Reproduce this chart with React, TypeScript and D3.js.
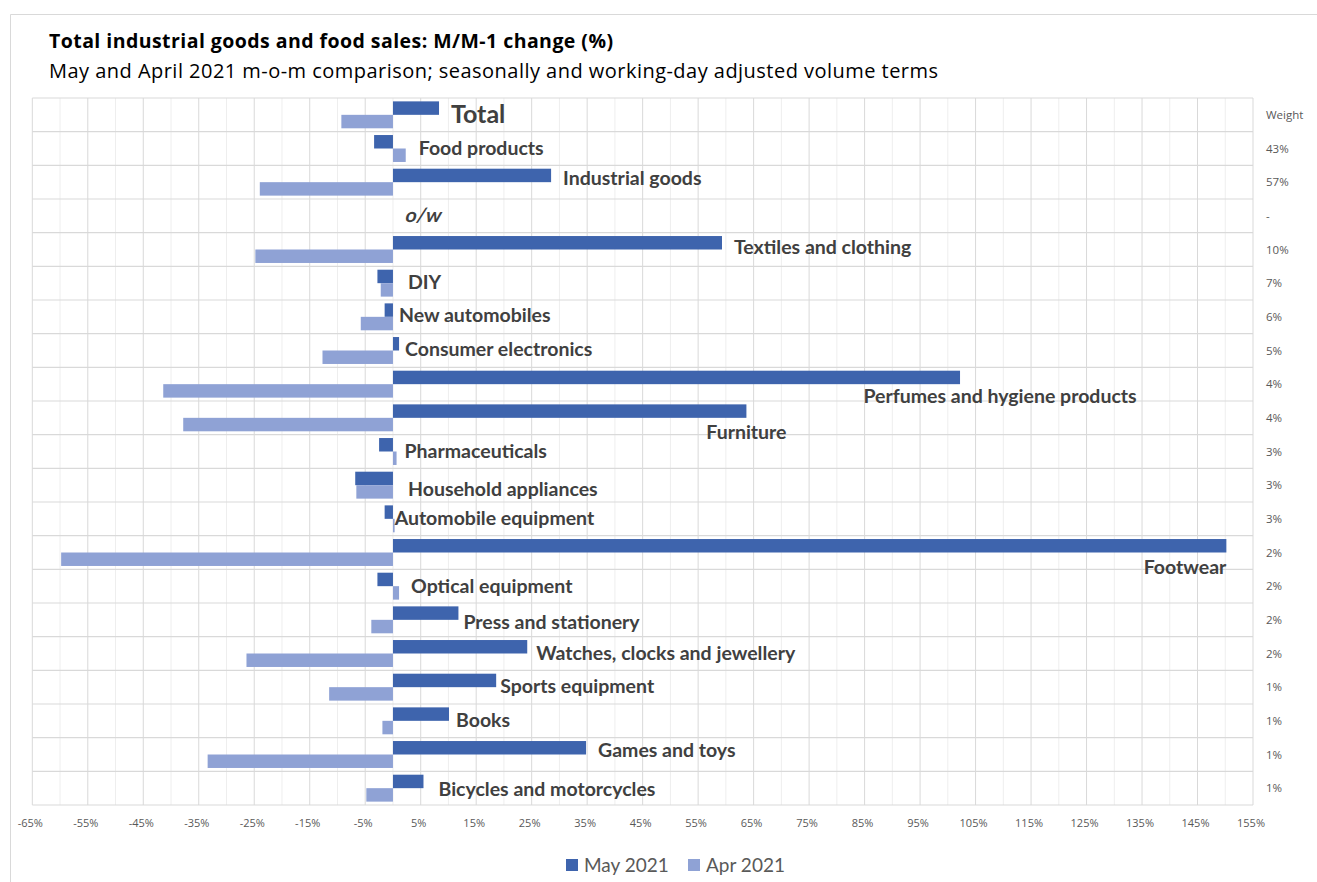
import React from "react";
import * as d3 from "d3";

const categories = [
  "Total", "Food products", "Industrial  goods", "o/w", "Textiles and clothing", "DIY",
  "New automobiles", "Consumer electronics", "Perfumes and hygiene products", "Furniture",
  "Pharmaceuticals", "Household appliances", "Automobile equipment", "Footwear",
  "Optical equipment", "Press and stationery", "Watches, clocks and jewellery",
  "Sports equipment", "Books", "Games and toys", "Bicycles and motorcycles",
];
const may2021: (number | null)[] = [
  8.3, -3.4, 28.5, null, 59.3, -2.8, -1.5, 1.1, 102.2, 63.7, -2.5, -6.8, -1.5, 150.2,
  -2.8, 11.8, 24.2, 18.6, 10.1, 34.8, 5.5,
];
const apr2021: (number | null)[] = [
  -9.3, 2.3, -24.0, null, -24.8, -2.2, -5.8, -12.7, -41.4, -37.8, 0.65, -6.6, 0.3, -59.8,
  1.1, -3.9, -26.4, -11.5, -1.9, -33.4, -4.8,
];
const weights = [
  "Weight", "43%", "57%", "-", "10%", "7%", "6%", "5%", "4%", "4%", "3%", "3%", "3%", "2%",
  "2%", "2%", "2%", "1%", "1%", "1%", "1%",
];
const seriesNames = ["May 2021", "Apr 2021"];
const tickValues = d3.range(-65, 156, 10);
const minorTickValues = d3.range(-60, 151, 10);

const title = "Total industrial  goods and food sales: M/M-1 change (%)";
const subtitle = "May and April 2021 m-o-m comparison; seasonally and working-day adjusted volume terms";

// layout (not data)
const W = 1317, H = 882;
const plot = { left: 32.3, right: 1253, top: 98, bottom: 805 };
const colors = ["#3E64AD", "#8FA2D5"];

type LS = { anchor?: "start" | "middle" | "end"; dx: number; dy: number; size?: number; italic?: boolean; mode?: "after" | "barEnd" };
const labelStyles: Record<string, LS> = {
  "Total": { dx: 0, dy: -1, size: 25 },
  "Food products": { dx: 1, dy: 0 },
  "Industrial  goods": { dx: 0, dy: -4 },
  "o/w": { dx: 1, dy: -1, italic: true },
  "Textiles and clothing": { dx: 0, dy: -2 },
  "DIY": { dx: 3, dy: -1 },
  "New automobiles": { dx: -6, dy: -2 },
  "Consumer electronics": { dx: -6, dy: -1 },
  "Perfumes and hygiene products": { anchor: "middle", mode: "barEnd", dx: 40, dy: 12 },
  "Furniture": { anchor: "middle", mode: "barEnd", dx: 0, dy: 14 },
  "Pharmaceuticals": { dx: -4, dy: 0 },
  "Household appliances": { dx: 3, dy: 4 },
  "Automobile equipment": { dx: -12, dy: -1 },
  "Footwear": { anchor: "end", mode: "barEnd", dx: 0, dy: 15 },
  "Optical equipment": { dx: 0, dy: 0 },
  "Press and stationery": { dx: -7, dy: 2 },
  "Watches, clocks and jewellery": { dx: -3, dy: 0 },
  "Sports equipment": { dx: -8, dy: -1 },
  "Books": { dx: -5, dy: -1 },
  "Games and toys": { dx: 0, dy: -4 },
  "Bicycles and motorcycles": { dx: 3, dy: 1 },
};

export default function App() {
  const x = d3.scaleLinear().domain([-65, 155]).range([plot.left, plot.right]);
  const y = d3.scaleBand<string>().domain(categories).range([plot.top, plot.bottom]).padding(0);
  const bw = y.bandwidth();
  const sub = d3.scaleBand<string>().domain(seriesNames).range([bw * 0.1, bw * 0.9]).padding(0);
  const series = [may2021, apr2021];
  const font = "'Open Sans', 'Noto Sans', sans-serif";
  const labelFont = "Lato, 'Open Sans', sans-serif";

  return (
    <svg width={W} height={H} style={{ position: "absolute", left: 0, top: 0, background: "#fff" }}>
      <rect x={0} y={0} width={W} height={H} fill="#fff" />
      {/* outer chart frame */}
      <path d={`M10.5,${H} V14.5 H${W}`} fill="none" stroke="#d9d9d9" strokeWidth={1} />
      <text x={49} y={48} fontFamily={font} fontWeight={700} fontSize={19.5} fill="#000"
        textLength={564} lengthAdjust="spacing">{title}</text>
      <text x={49} y={78} fontFamily={font} fontSize={20} fill="#000"
        textLength={889} lengthAdjust="spacing">{subtitle}</text>

      {/* minor gridlines */}
      {minorTickValues.map((t) => (
        <line key={"m" + t} x1={x(t)} x2={x(t)} y1={plot.top} y2={plot.bottom} stroke="#eeeeee" strokeWidth={1} />
      ))}
      {/* row lines */}
      {d3.range(categories.length + 1).map((i) => {
        const yy = plot.top + i * bw;
        return <line key={"r" + i} x1={plot.left} x2={plot.right} y1={yy} y2={yy} stroke="#d9d9d9" strokeWidth={1.2} />;
      })}
      {/* major gridlines */}
      {tickValues.map((t) => (
        <line key={"M" + t} x1={x(t)} x2={x(t)} y1={plot.top} y2={plot.bottom} stroke="#d9d9d9" strokeWidth={1} />
      ))}

      {/* bars */}
      {series.map((vals, si) =>
        vals.map((v, i) => {
          if (v === null) return null;
          const c = categories[i];
          const x0 = x(Math.min(0, v));
          const x1 = x(Math.max(0, v));
          return (
            <rect key={si + "-" + i} x={x0} width={Math.max(x1 - x0, 0.8)}
              y={(y(c) as number) + (sub(seriesNames[si]) as number)} height={sub.bandwidth()}
              fill={colors[si]} />
          );
        })
      )}

      {/* category labels */}
      {categories.map((c, i) => {
        const st = labelStyles[c];
        const may = may2021[i] ?? 0;
        const apr = apr2021[i] ?? 0;
        const cy = (y(c) as number) + bw / 2;
        let lx: number;
        if (st.mode === "barEnd") lx = x(Math.max(may, apr));
        else lx = x(Math.max(0, may, apr)) + 12;
        const tx = lx + st.dx;
        const ty = cy + st.dy;
        return (
          <text key={"l" + c} x={tx} y={ty} dy="0.35em"
            transform={st.italic ? `translate(${tx},${ty}) skewX(-14) translate(${-tx},${-ty})` : undefined}
            textAnchor={st.anchor ?? "start"} fontFamily={labelFont} fontWeight={700}
            fontSize={st.size ?? 19.5} fill="#404040">
            {c}
          </text>
        );
      })}

      {/* weights */}
      {weights.map((w, i) => (
        <text key={"w" + i} x={1266} y={(y(categories[i]) as number) + bw / 2} dy="0.35em"
          fontFamily={font} fontSize={11.5} fill="#595959">{w}</text>
      ))}

      {/* x tick labels */}
      {tickValues.map((t) => (
        <text key={"t" + t} x={x(t) - 2} y={827} textAnchor="middle" fontFamily={font} fontSize={11} fill="#595959">
          {`${t}%`}
        </text>
      ))}

      {/* legend */}
      {seriesNames.map((s, i) => {
        const lx = [566, 688][i];
        return (
          <g key={"lg" + s}>
            <rect x={lx} y={859} width={12} height={12} fill={colors[i]} />
            <text x={lx + 18} y={872} fontFamily={labelFont} fontSize={19} fill="#595959">{s}</text>
          </g>
        );
      })}
    </svg>
  );
}
